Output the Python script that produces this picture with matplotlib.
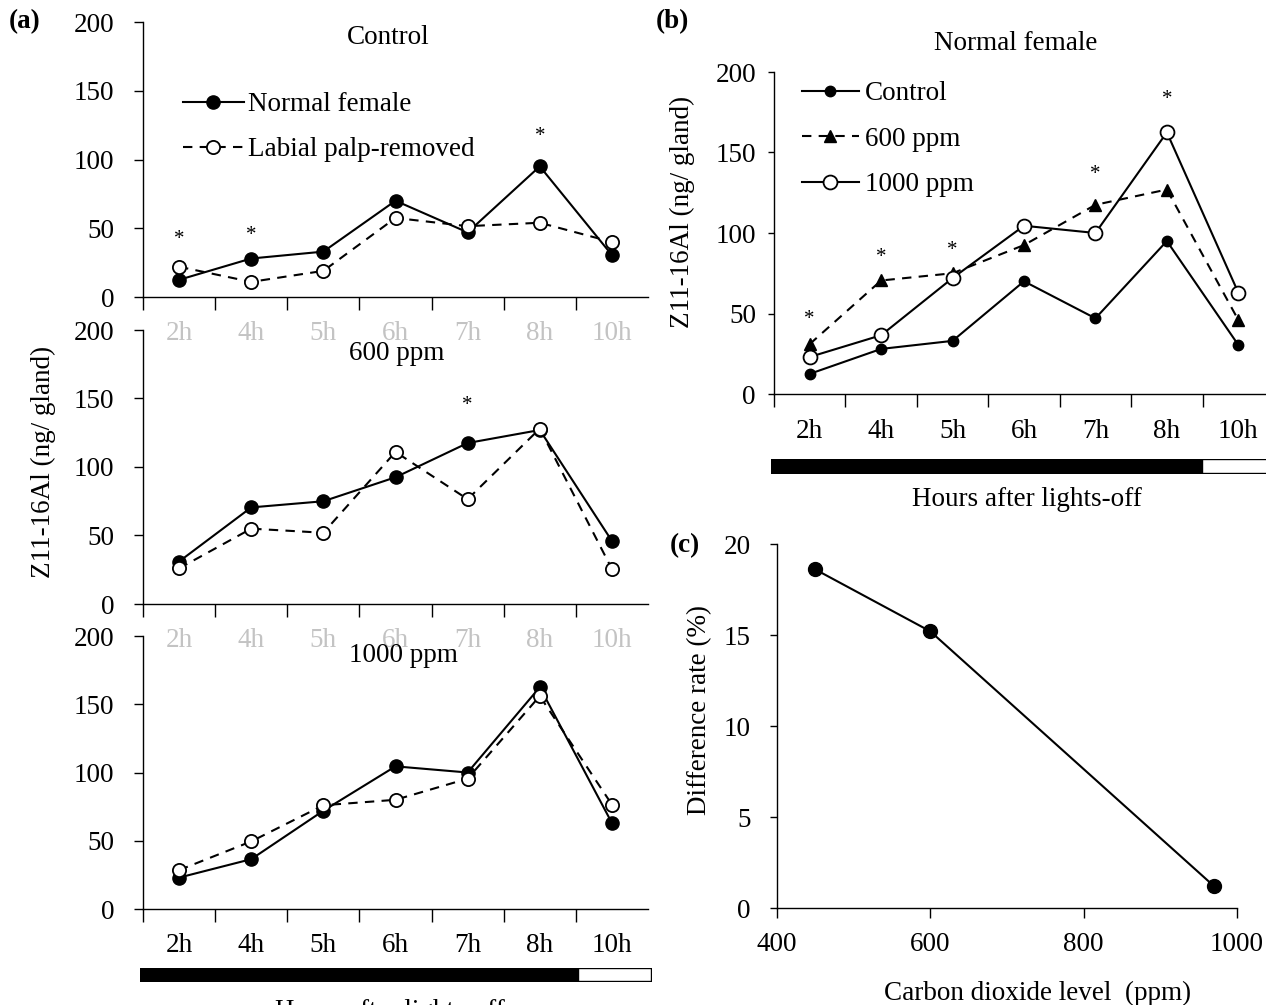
import matplotlib
matplotlib.use('Agg')
import matplotlib.pyplot as plt
from matplotlib.lines import Line2D

plt.rcParams['font.family'] = ['Liberation Serif', 'DejaVu Serif']
plt.rcParams['font.size'] = 19.5

# ---------------- data ----------------
hours = ['2h', '4h', '5h', '6h', '7h', '8h', '10h']
control_normal = [12.5, 28, 33, 70, 47, 95, 30.5]
control_labial = [22, 11, 19, 57.5, 51.5, 54, 40]
ppm600_normal = [31, 70.5, 75, 92.5, 117.5, 127, 46]
ppm600_labial = [26, 55, 52, 111, 76.5, 128, 25.5]
ppm1000_normal = [23, 36.5, 72, 104.5, 100, 162.5, 63]
ppm1000_labial = [28.5, 49.5, 76, 80, 95.5, 156, 76.5]

# significance stars: (hour index, y position)
stars_control = [(0, 42), (1, 44.5), (5, 117)]
stars_600 = [(4, 145)]
stars_b = [(0, 46), (1, 85), (2, 89), (4, 136.5), (5, 183)]

dark_hours = 6  # categories under lights-off (black bar)
co2_level = [450, 600, 970]
diff_rate = [18.6, 15.2, 1.2]

yticks_a = [0, 50, 100, 150, 200]
yticks_c = [0, 5, 10, 15, 20]
xticks_c = [400, 600, 800, 1000]

# ---------------- layout ----------------
W, H = 1266, 1005
fig = plt.figure(figsize=(W / 100, H / 100), dpi=100)


def px_axes(l, t, r, b):
    ax = fig.add_axes([l / W, 1 - b / H, (r - l) / W, (b - t) / H])
    ax.set_facecolor('none')
    return ax


def ftext(x, y, s, **kw):
    kw.setdefault('ha', 'center')
    kw.setdefault('va', 'center')
    return fig.text(x / W, 1 - y / H, s, **kw)


def style(ax, ypad, ylen):
    for s in ['top', 'right']:
        ax.spines[s].set_visible(False)
    for s in ['left', 'bottom']:
        ax.spines[s].set_linewidth(1.0)
    ax.tick_params(axis='y', direction='out', length=ylen, width=1, pad=ypad)


def cat_axis(ax, labelcolor, pad):
    n = len(hours)
    ax.set_xlim(0, n)
    ax.set_xticks([i + 0.5 for i in range(n)])
    ax.set_xticklabels(hours)
    ax.set_xticks(list(range(n)), minor=True)
    ax.tick_params(axis='x', which='major', length=0, pad=pad, labelcolor=labelcolor)
    ax.tick_params(axis='x', which='minor', direction='out', length=9, width=1)


xs = [i + 0.5 for i in range(len(hours))]
dash = (4.5, 3.5)
MS_A = 9.5

panels_a = [
    ((143, 22, 648, 297), control_normal, control_labial, stars_control, '#c3c3c3'),
    ((143, 330, 648, 604), ppm600_normal, ppm600_labial, stars_600, '#c3c3c3'),
    ((143, 636, 648, 909), ppm1000_normal, ppm1000_labial, [], 'black'),
]
axes_a = []
for (box, normal, labial, stars, lc) in panels_a:
    ax = px_axes(*box)
    style(ax, 14, 6.5)
    cat_axis(ax, lc, 17)
    ax.set_ylim(0, 200)
    ax.set_yticks(yticks_a)
    ax.plot(xs, normal, '-', color='black', lw=1.5, marker='o', ms=MS_A,
            mfc='black', mec='black', zorder=3, clip_on=False)
    ax.plot(xs, labial, '--', dashes=dash, color='black', lw=1.5, marker='o', ms=MS_A,
            mfc='white', mec='black', mew=1.3, zorder=4, clip_on=False)
    for i, y in stars:
        ax.text(xs[i], y, '*', ha='center', va='center', fontsize=15)
    axes_a.append(ax)

ftext(388, 37, 'Control')
ftext(397, 353, '600 ppm')
ftext(403, 655, '1000 ppm')

h1 = Line2D([], [], color='black', lw=1.5, marker='o', ms=MS_A, mfc='black', mec='black')
h2 = Line2D([], [], color='black', lw=1.5, ls='--', dashes=dash, marker='o', ms=MS_A,
            mfc='white', mec='black', mew=1.3)
axes_a[0].legend([h1, h2], ['Normal female', 'Labial palp-removed'], loc='upper left',
                 bbox_to_anchor=(183 / W, 1 - 92 / H), bbox_transform=fig.transFigure,
                 frameon=False, handlelength=2.25, handletextpad=0.15, borderpad=0,
                 borderaxespad=0, labelspacing=0.75)

# lights bar for (a)
bar_a = px_axes(140, 968, 651, 981)
bar_a.set_xlim(0, len(hours))
bar_a.set_ylim(0, 1)
bar_a.broken_barh([(0, dark_hours)], (0, 1), facecolors='black', edgecolor='black', lw=1)
bar_a.broken_barh([(dark_hours, len(hours) - dark_hours)], (0, 1), facecolors='white',
                  edgecolor='black', lw=1)
bar_a.axis('off')

ftext(43, 462, 'Z11-16Al (ng/ gland)', rotation=90)
ftext(390, 1011, 'Hours after lights-off')
ftext(25, 22, '(a)', fontweight='bold')

# ---------------- (b) ----------------
axb = px_axes(774, 72, 1274, 394)
style(axb, 9, 4)
cat_axis(axb, 'black', 18)
axb.set_ylim(0, 200)
axb.set_yticks(yticks_a)
axb.plot(xs, control_normal, '-', color='black', lw=1.5, marker='o', ms=7.5,
         mfc='black', mec='black', zorder=3, clip_on=False)
axb.plot(xs, ppm600_normal, '--', dashes=dash, color='black', lw=1.5, marker='^', ms=9,
         mfc='black', mec='black', zorder=4, clip_on=False)
axb.plot(xs, ppm1000_normal, '-', color='black', lw=1.5, marker='o', ms=10,
         mfc='white', mec='black', mew=1.3, zorder=5, clip_on=False)
for i, y in stars_b:
    axb.text(xs[i], y, '*', ha='center', va='center', fontsize=15)

hb1 = Line2D([], [], color='black', lw=1.5, marker='o', ms=7.5, mfc='black', mec='black')
hb2 = Line2D([], [], color='black', lw=1.5, ls='--', dashes=dash, marker='^', ms=9,
             mfc='black', mec='black')
hb3 = Line2D([], [], color='black', lw=1.5, marker='o', ms=10, mfc='white', mec='black', mew=1.3)
axb.legend([hb1, hb2, hb3], ['Control', '600 ppm', '1000 ppm'], loc='upper left',
           bbox_to_anchor=(802 / W, 1 - 81 / H), bbox_transform=fig.transFigure,
           frameon=False, handlelength=2.1, handletextpad=0.22, borderpad=0,
           borderaxespad=0, labelspacing=0.76)

ftext(1016, 44, 'Normal female')
ftext(682, 212, 'Z11-16Al (ng/ gland)', rotation=90)
ftext(1027, 500, 'Hours after lights-off')
ftext(672, 22, '(b)', fontweight='bold')

bar_b = px_axes(771, 459, 1274, 473)
bar_b.set_xlim(0, len(hours))
bar_b.set_ylim(0, 1)
bar_b.broken_barh([(0, dark_hours)], (0, 1), facecolors='black', edgecolor='black', lw=1)
bar_b.broken_barh([(dark_hours, len(hours) - dark_hours)], (0, 1), facecolors='white',
                  edgecolor='black', lw=1)
bar_b.axis('off')

# ---------------- (c) ----------------
axc = px_axes(777, 544, 1237, 908)
style(axc, 14, 5)
axc.set_xlim(400, 1000)
axc.set_ylim(0, 20)
axc.set_xticks(xticks_c)
axc.set_yticks(yticks_c)
axc.tick_params(axis='x', direction='out', length=7, width=1, pad=10)
axc.plot(co2_level, diff_rate, '-', color='black', lw=1.5, marker='o', ms=10,
         mfc='black', mec='black', clip_on=False)

ftext(700, 710, 'Difference rate (%)', rotation=90)
ftext(1038, 993, 'Carbon dioxide level  (ppm)')
ftext(685, 546, '(c)', fontweight='bold')

fig.savefig('out.png', dpi=100)
